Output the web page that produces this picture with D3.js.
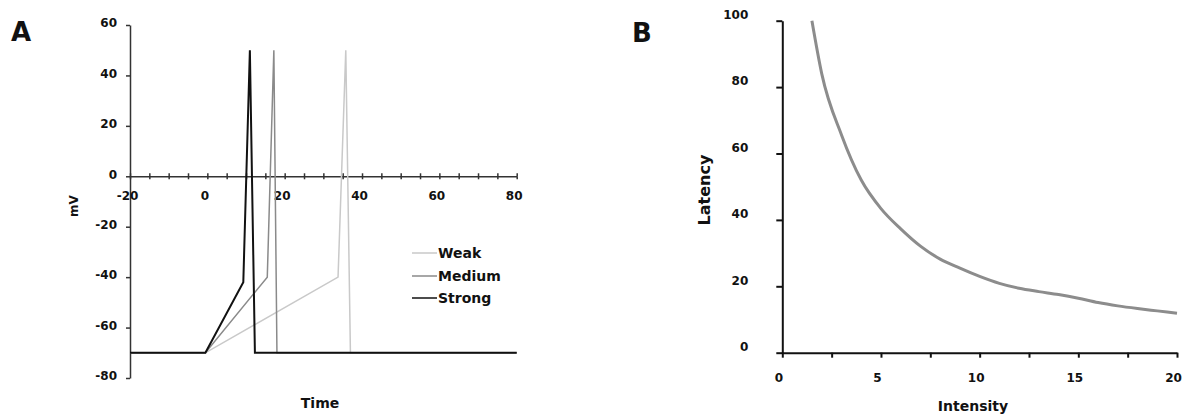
<!DOCTYPE html>
<html>
  <head>
    <meta http-equiv="Content-Type" content="text/html;charset=utf-8"/>
    <title>Latency chart</title>
    <script src="https://cdn.jsdelivr.net/npm/d3@7"></script>
    <style>
      body { margin: 0; background: #fff; }
      text { font-family: "DejaVu Sans", sans-serif; font-weight: bold; fill: #111; }
    </style>
  </head>
  <body>
    <svg id="target"></svg>
  </body>
  <script>
    // panel A : membrane potential traces
    var seriesNames = [ "Weak", "Medium", "Strong" ];
    var timeWeak   = [ -20, -0.5, 33.8, 35.8, 37.0, 80 ];
    var mvWeak     = [ -70, -70, -40, 50, -70, -70 ];
    var timeMedium = [ -20, -0.5, 15.5, 17.2, 18.0, 80 ];
    var mvMedium   = [ -70, -70, -40, 50, -70, -70 ];
    var timeStrong = [ -20, -0.5, 9.3, 11.0, 12.3, 80 ];
    var mvStrong   = [ -70, -70, -42, 50, -70, -70 ];
    var mvTicks    = [ -80, -60, -40, -20, 0, 20, 40, 60 ];
    var timeTicks  = d3.range( -20, 81, 5 );

    // panel B : latency vs intensity
    var intensity = [ 1.5, 2, 3, 4, 5, 6, 7, 8, 9, 10, 11, 12, 13, 14, 15, 16, 17, 18, 19, 20 ];
    var latency   = [ 100, 84, 65.6, 52, 43.4, 37.3, 32.1, 28.2, 25.5, 23, 20.9, 19.4, 18.4, 17.5, 16.4, 15.1, 14.1, 13.3, 12.6, 11.9 ];
    var latencyTicks   = [ 0, 20, 40, 60, 80, 100 ];
    var intensityTicks = d3.range( 0, 20.1, 2.5 );

    var width = 1188;
    var height = 416;
    var target = d3.select( "#target" ).attr( "width", width ).attr( "height", height );

    // ---------- A ----------
    var xA = d3.scaleLinear().domain( [ -20, 80 ] ).range( [ 130, 516.7 ] );
    var yA = d3.scaleLinear().domain( [ -80, 60 ] ).range( [ 378, 25 ] );

    target.append( "text" ).attr( "x", 11 ).attr( "y", 41 ).style( "font-size", "26px" ).text( "A" );

    var gA = target.append( "g" );

    var axisYA = d3.axisLeft( yA ).tickValues( mvTicks ).tickSize( 4 ).tickSizeOuter( 0 ).tickPadding( 9 )
      .tickFormat( d => String( d ) );
    gA.append( "g" )
      .attr( "class", "ya" )
      .attr( "transform", "translate(" + xA( -20 ) + ",0)" )
      .call( axisYA );

    var axisXA = d3.axisBottom( xA ).tickValues( timeTicks ).tickSize( 3 ).tickSizeOuter( 0 ).tickPadding( 12 )
      .tickFormat( d => d % 20 === 0 ? String( d ) : "" );
    gA.append( "g" )
      .attr( "class", "xa" )
      .attr( "transform", "translate(0," + yA( 0 ) + ")" )
      .call( axisXA );
    gA.append( "g" )
      .attr( "transform", "translate(0," + yA( 0 ) + ")" )
      .call( d3.axisTop( xA ).tickValues( timeTicks ).tickSize( 3 ).tickSizeOuter( 0 ).tickFormat( "" ) )
      .select( ".domain" ).remove();

    gA.selectAll( ".tick text" ).style( "font-size", "12px" ).style( "font-family", "DejaVu Sans" ).style( "font-weight", "bold" );
    gA.selectAll( ".xa .tick text" ).attr( "dx", -3 );
    gA.selectAll( ".ya .tick text" ).attr( "y", -2 );
    gA.selectAll( ".domain, .tick line" ).attr( "stroke", "#333" ).attr( "stroke-width", 1.5 );

    var lineA = d3.line().x( d => xA( d[0] ) ).y( d => yA( d[1] ) );
    var traces = [
      { t: timeWeak,   v: mvWeak,   color: "#c9c9c9", w: 1.5 },
      { t: timeMedium, v: mvMedium, color: "#8a8a8a", w: 1.5 },
      { t: timeStrong, v: mvStrong, color: "#111",    w: 2 }
    ];
    gA.selectAll( "path.trace" ).data( traces )
      .enter().append( "path" )
        .attr( "class", "trace" )
        .attr( "fill", "none" )
        .attr( "stroke", d => d.color )
        .attr( "stroke-width", d => d.w )
        .attr( "d", d => lineA( d.t.map( ( t, i ) => [ t, d.v[i] ] ) ) );

    // legend
    var legendY = [ 253, 276, 298 ];
    var legend = gA.selectAll( "g.legend" ).data( traces )
      .enter().append( "g" )
        .attr( "class", "legend" )
        .attr( "transform", ( d, i ) => "translate(412," + legendY[i] + ")" );
    legend.append( "line" )
      .attr( "x1", 0 ).attr( "x2", 25 )
      .attr( "stroke", d => d.color ).attr( "stroke-width", 1.5 );
    legend.append( "text" )
      .attr( "x", 26 ).attr( "dy", "0.36em" )
      .style( "font-size", "14px" )
      .text( ( d, i ) => seriesNames[i] );

    target.append( "text" ).attr( "x", 320 ).attr( "y", 408 ).attr( "text-anchor", "middle" )
      .style( "font-size", "14px" ).text( "Time" );
    target.append( "text" ).attr( "transform", "translate(78,206) rotate(-90)" ).attr( "text-anchor", "middle" )
      .style( "font-size", "12px" ).text( "mV" );

    // ---------- B ----------
    var xB = d3.scaleLinear().domain( [ 0, 20 ] ).range( [ 782.3, 1177 ] );
    var yB = d3.scaleLinear().domain( [ 0, 100 ] ).range( [ 352.7, 20.7 ] );

    target.append( "text" ).attr( "x", 632 ).attr( "y", 42 ).style( "font-size", "26px" ).text( "B" );

    var gB = target.append( "g" );

    gB.append( "path" )
      .datum( intensity.map( ( x, i ) => [ x, latency[i] ] ) )
      .attr( "fill", "none" )
      .attr( "stroke", "#8c8c8c" )
      .attr( "stroke-width", 3 )
      .attr( "d", d3.line().curve( d3.curveMonotoneX ).x( d => xB( d[0] ) ).y( d => yB( d[1] ) ) );

    var axisYB = d3.axisLeft( yB ).tickValues( latencyTicks ).tickSize( 6 ).tickSizeOuter( 0 ).tickPadding( 28 );
    var yb = gB.append( "g" )
      .attr( "transform", "translate(" + xB( 0 ) + ",0)" )
      .call( axisYB );
    yb.selectAll( ".tick text" ).attr( "y", -6 );

    var axisXB = d3.axisBottom( xB ).tickValues( intensityTicks ).tickSize( 5 ).tickSizeOuter( 0 ).tickPadding( 16 )
      .tickFormat( d => d % 5 === 0 ? String( d ) : "" );
    var xb = gB.append( "g" )
      .attr( "transform", "translate(0," + yB( 0 ) + ")" )
      .call( axisXB );
    xb.selectAll( ".tick text" ).attr( "dx", -4 );

    gB.selectAll( ".tick text" ).style( "font-size", "12px" ).style( "font-family", "DejaVu Sans" ).style( "font-weight", "bold" );
    gB.selectAll( ".domain, .tick line" ).attr( "stroke", "#111" ).attr( "stroke-width", 2 );

    target.append( "text" ).attr( "x", 973 ).attr( "y", 411 ).attr( "text-anchor", "middle" )
      .style( "font-size", "14px" ).text( "Intensity" );
    target.append( "text" ).attr( "transform", "translate(710,190) rotate(-90)" ).attr( "text-anchor", "middle" )
      .style( "font-size", "16px" ).text( "Latency" );
  </script>
</html>
